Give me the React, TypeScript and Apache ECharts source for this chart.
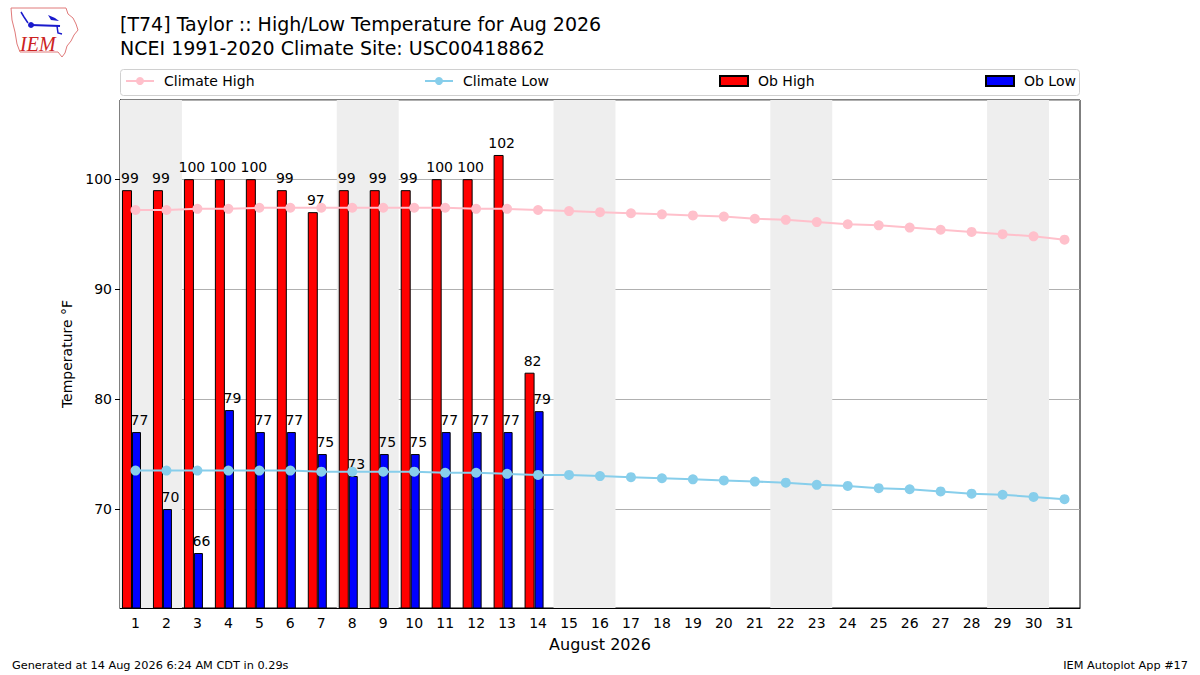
import React, { useEffect, useRef } from 'react';
import * as echarts from 'echarts';

const days = ['1', '2', '3', '4', '5', '6', '7', '8', '9', '10', '11', '12', '13', '14', '15', '16',
    '17', '18', '19', '20', '21', '22', '23', '24', '25', '26', '27', '28', '29', '30', '31'];

const climateHigh = [97.2, 97.2, 97.3, 97.3, 97.4, 97.4, 97.4, 97.4, 97.4, 97.4, 97.4, 97.3, 97.3, 97.2, 97.1, 97.0,
    96.9, 96.8, 96.7, 96.6, 96.4, 96.3, 96.1, 95.9, 95.8, 95.6, 95.4, 95.2, 95.0, 94.8, 94.5];

const climateLow = [73.5, 73.5, 73.5, 73.5, 73.5, 73.5, 73.4, 73.4, 73.4, 73.4, 73.3, 73.3, 73.2, 73.1, 73.1, 73.0,
    72.9, 72.8, 72.7, 72.6, 72.5, 72.4, 72.2, 72.1, 71.9, 71.8, 71.6, 71.4, 71.3, 71.1, 70.9];

const obHigh = [99, 99, 100, 100, 100, 99, 97, 99, 99, 99, 100, 100, 102.2, 82.4];
const obLow = [77, 70, 66, 79, 77, 77, 75, 73, 75, 75, 77, 77, 77, 78.9];

// weekend days (Sat, Sun) get a grey band
const weekends = [[1, 2], [8, 9], [15, 16], [22, 23], [29, 30]];

const FONT = 'DejaVu Sans';

const App: React.FC = () => {
    const chartRef = useRef<HTMLDivElement>(null);

    useEffect(() => {
        if (!chartRef.current) return;
        const myChart = echarts.init(chartRef.current, null, { renderer: 'svg' });

        const roundLabel = (p: any) => (p.value == null ? '' : String(Math.round(p.value)));

        const legendBase = {
            top: 74,
            padding: 0,
            itemWidth: 28,
            itemHeight: 10,
            textStyle: { fontSize: 14, color: '#000', fontFamily: FONT, padding: [0, 0, 0, 5] },
            selectedMode: false,
        };

        const option: echarts.EChartsOption = {
            animation: false,
            textStyle: { fontFamily: FONT },
            title: [
                {
                    text: '[T74] Taylor :: High/Low Temperature for Aug 2026\nNCEI 1991-2020 Climate Site: USC00418862',
                    left: 120,
                    top: 12,
                    padding: 0,
                    textStyle: { fontSize: 19, fontWeight: 'normal', color: '#000', lineHeight: 24, fontFamily: FONT },
                },
            ],
            legend: [
                { ...legendBase, left: 125, data: ['Climate High'] },
                { ...legendBase, left: 424, data: ['Climate Low'] },
                { ...legendBase, left: 719, data: [{ name: 'Ob High', icon: 'rect' }] },
                { ...legendBase, left: 985, data: [{ name: 'Ob Low', icon: 'rect' }] },
            ],
            grid: {
                left: 120,
                right: 120,
                top: 100,
                bottom: 67,
                show: true,
                borderColor: '#000',
                borderWidth: 1,
            },
            xAxis: [
                {
                    type: 'category',
                    data: days,
                    boundaryGap: true,
                    name: 'August 2026',
                    nameLocation: 'middle',
                    nameGap: 28,
                    nameTextStyle: { fontSize: 16, color: '#000' },
                    axisLine: { lineStyle: { color: '#000', width: 1 } },
                    axisTick: { alignWithLabel: true, length: 5, lineStyle: { color: '#000' } },
                    axisLabel: { fontSize: 14, color: '#000', margin: 8, interval: 0 },
                },
                {
                    type: 'value',
                    min: 0.5,
                    max: 31.5,
                    show: false,
                },
            ],
            yAxis: {
                type: 'value',
                min: 61,
                max: 107.2,
                name: 'Temperature °F',
                nameLocation: 'middle',
                nameGap: 38,
                nameTextStyle: { fontSize: 14, color: '#000' },
                axisLine: { show: true, lineStyle: { color: '#000' } },
                axisTick: { show: true, length: 5, lineStyle: { color: '#000' } },
                axisLabel: {
                    fontSize: 14,
                    color: '#000',
                    margin: 8,
                    showMinLabel: false,
                    showMaxLabel: false,
                    formatter: (v: number) => (v % 10 === 0 ? String(v) : ''),
                },
                splitLine: { show: true, lineStyle: { color: '#b0b0b0', width: 1 } },
            },
            series: [
                {
                    name: 'weekend',
                    type: 'line',
                    xAxisIndex: 1,
                    data: [],
                    z: -1,
                    silent: true,
                    markArea: {
                        silent: true,
                        itemStyle: { color: '#eeeeee' },
                        data: weekends.map(([a, b]) => [{ xAxis: a - 0.5 }, { xAxis: b + 0.5 }]) as any,
                    },
                },
                {
                    name: 'Ob High',
                    type: 'bar',
                    data: obHigh,
                    barWidth: 10,
                    barGap: '0%',
                    itemStyle: { color: '#ff0000', borderColor: '#000', borderWidth: 1 },
                    label: {
                        show: true,
                        position: 'top',
                        distance: 5,
                        offset: [3, 0],
                        fontSize: 14,
                        color: '#000',
                        formatter: roundLabel,
                    },
                },
                {
                    name: 'Ob Low',
                    type: 'bar',
                    data: obLow,
                    barWidth: 9,
                    barGap: '0%',
                    itemStyle: { color: '#0000ff', borderColor: '#000', borderWidth: 1 },
                    label: {
                        show: true,
                        position: 'top',
                        distance: 5,
                        offset: [3, 0],
                        fontSize: 14,
                        color: '#000',
                        formatter: roundLabel,
                    },
                },
                {
                    // empty slot so the bar pair sits left of the day tick
                    name: 'pad',
                    type: 'bar',
                    data: [],
                    barWidth: 8,
                    barGap: '0%',
                    silent: true,
                    itemStyle: { color: 'transparent' },
                },
                {
                    name: 'Climate High',
                    type: 'line',
                    data: climateHigh,
                    z: 5,
                    symbol: 'circle',
                    symbolSize: 10,
                    color: '#ffc0cb',
                    lineStyle: { color: '#ffc0cb', width: 2 },
                    itemStyle: { color: '#ffc0cb' },
                },
                {
                    name: 'Climate Low',
                    type: 'line',
                    data: climateLow,
                    z: 5,
                    symbol: 'circle',
                    symbolSize: 10,
                    color: '#87ceeb',
                    lineStyle: { color: '#87ceeb', width: 2 },
                    itemStyle: { color: '#87ceeb' },
                },
            ],
            graphic: [
                {
                    type: 'rect',
                    z: -10,
                    shape: { x: 120.5, y: 69.5, width: 959, height: 26, r: 3 },
                    style: { fill: '#fff', stroke: '#d0d0d0', lineWidth: 1 },
                },
                // IEM logo, drawn roughly
                {
                    type: 'polygon',
                    shape: {
                        points: [[11, 8], [66, 8], [68, 14], [73, 18], [76, 24], [78, 30], [74, 35], [71, 41],
                            [67, 46], [65, 53], [62, 57], [58, 52], [20, 52], [17, 44], [15, 32], [12, 20]],
                    },
                    style: { fill: '#fff', stroke: '#e07a7a', lineWidth: 1 },
                },
                {
                    type: 'line',
                    shape: { x1: 31, y1: 25, x2: 60, y2: 26 },
                    style: { stroke: '#1a1acc', lineWidth: 2 },
                },
                {
                    type: 'circle',
                    shape: { cx: 31, cy: 25, r: 3 },
                    style: { fill: '#1a1acc' },
                },
                {
                    type: 'polyline',
                    shape: { points: [[21, 12], [24, 17], [28, 23]] },
                    style: { stroke: '#1a1acc', lineWidth: 1.5, fill: 'none' },
                },
                {
                    type: 'polygon',
                    shape: { points: [[48, 15], [55, 18], [59, 21], [51, 20]] },
                    style: { fill: '#1a1acc' },
                },
                {
                    type: 'polyline',
                    shape: { points: [[57, 26], [58, 33], [62, 34]] },
                    style: { stroke: '#1a1acc', lineWidth: 1.5, fill: 'none' },
                },
                {
                    type: 'text',
                    x: 20,
                    y: 34,
                    style: {
                        text: 'IEM',
                        font: 'italic 20px "Liberation Serif", serif',
                        fill: '#cc2222',
                    },
                },
                {
                    type: 'text',
                    x: 12,
                    y: 665,
                    style: {
                        text: 'Generated at 14 Aug 2026 6:24 AM CDT in 0.29s',
                        font: `11.3px "${FONT}"`,
                        fill: '#000',
                        verticalAlign: 'middle',
                    },
                },
                {
                    type: 'text',
                    x: 1188,
                    y: 665,
                    style: {
                        text: 'IEM Autoplot App #17',
                        font: `11.3px "${FONT}"`,
                        fill: '#000',
                        align: 'right',
                        verticalAlign: 'middle',
                    },
                },
            ],
        };
        myChart.setOption(option);

        const handleResize = () => {
            myChart.resize();
        };
        window.addEventListener('resize', handleResize);

        return () => {
            window.removeEventListener('resize', handleResize);
            myChart.dispose();
        };
    }, []);

    return (
        <div style={{ position: 'fixed', left: 0, top: 0, width: '1200px', height: '675px', background: '#fff' }}>
            <div ref={chartRef} style={{ width: '1200px', height: '675px' }} />
        </div>
    );
};

export default App;
